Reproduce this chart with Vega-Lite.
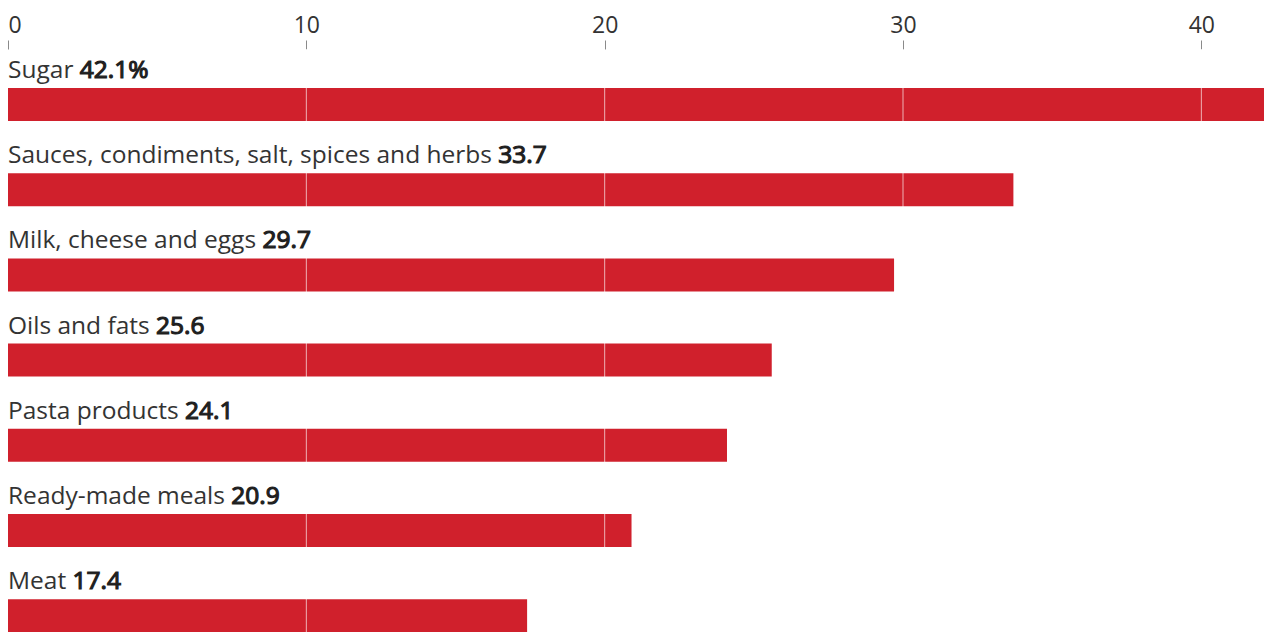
{
  "$schema": "https://vega.github.io/schema/vega-lite/v6.json",
  "autosize": {"type": "none"},
  "padding": {"top": 49, "left": 8, "right": 0, "bottom": 0},
  "width": 1256,
  "height": 583,
  "background": "white",
  "config": {"view": {"stroke": null}, "font": "Open Sans"},
  "data": {
    "values": [
      {"category": "Sugar", "value": 42.1, "valueText": "42.1%"},
      {"category": "Sauces, condiments, salt, spices and herbs", "value": 33.7, "valueText": "33.7"},
      {"category": "Milk, cheese and eggs", "value": 29.7, "valueText": "29.7"},
      {"category": "Oils and fats", "value": 25.6, "valueText": "25.6"},
      {"category": "Pasta products", "value": 24.1, "valueText": "24.1"},
      {"category": "Ready-made meals", "value": 20.9, "valueText": "20.9"},
      {"category": "Meat", "value": 17.4, "valueText": "17.4"}
    ]
  },
  "transform": [{"calculate": "datum.category + ' ' + datum.valueText", "as": "fullLabel"}],
  "encoding": {
    "y": {"field": "category", "type": "nominal", "sort": null, "axis": null,
          "scale": {"range": [0, 596.4], "paddingInner": 0, "paddingOuter": 0}}
  },
  "layer": [
    {
      "mark": {"type": "bar", "color": "#d0202c", "height": 33, "yOffset": 12.9},
      "encoding": {
        "x": {"field": "value", "type": "quantitative",
              "scale": {"domain": [0, 42.1], "nice": false, "zero": true},
              "axis": {"orient": "top", "title": null, "values": [0, 10, 20, 30, 40],
                       "grid": false, "domain": false, "tickSize": 9, "tickColor": "#8a8a8a",
                       "tickWidth": 1, "labelFontSize": 23, "labelFont": "Open Sans",
                       "labelColor": "#333333", "labelPadding": 3, "labelFlush": true}}
      }
    },
    {
      "data": {"values": [{"tick": 10}, {"tick": 20}, {"tick": 30}, {"tick": 40}]},
      "mark": {"type": "rule", "color": "white", "strokeWidth": 1, "opacity": 0.65},
      "encoding": {"x": {"field": "tick", "type": "quantitative"}, "y": null}
    },
    {
      "mark": {"type": "text", "align": "left", "baseline": "alphabetic", "yOffset": -13.6,
               "fontSize": 24.5, "font": "Open Sans", "fill": "#1f1f1f", "stroke": "#1f1f1f", "strokeWidth": 1.2},
      "encoding": {"x": {"datum": 0, "type": "quantitative"}, "text": {"field": "fullLabel"}}
    },
    {
      "mark": {"type": "text", "align": "left", "baseline": "alphabetic", "yOffset": -13.6,
               "fontSize": 24.5, "font": "Open Sans", "fill": "white", "stroke": "white", "strokeWidth": 2.8},
      "encoding": {"x": {"datum": 0, "type": "quantitative"}, "text": {"field": "category"}}
    },
    {
      "mark": {"type": "text", "align": "left", "baseline": "alphabetic", "yOffset": -13.6,
               "fontSize": 24.5, "font": "Open Sans", "fill": "#333333"},
      "encoding": {"x": {"datum": 0, "type": "quantitative"}, "text": {"field": "category"}}
    }
  ]
}
